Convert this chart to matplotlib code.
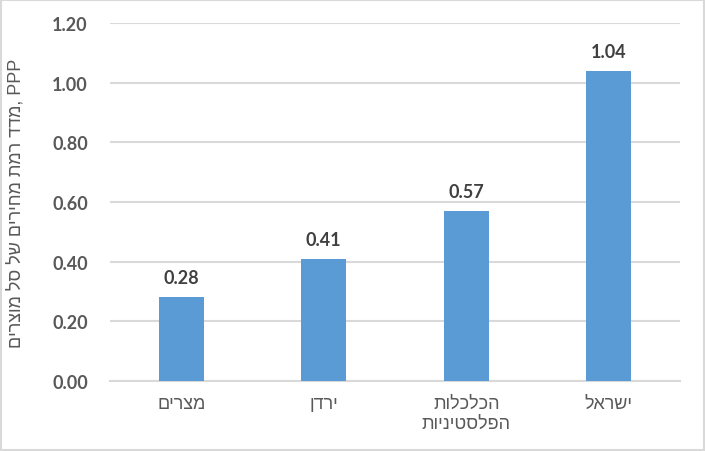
import matplotlib
matplotlib.use("Agg")
import matplotlib.pyplot as plt
from matplotlib.patches import Rectangle

# data (Hebrew kept in logical order, flipped for display below)
countries = ["מצרים", "ירדן", "הכלכלות\nהפלסטיניות", "ישראל"]
ppp_index = [0.28, 0.41, 0.57, 1.04]
y_ticks = [0.0, 0.2, 0.4, 0.6, 0.8, 1.0, 1.2]
y_title = "מדד רמת מחירים של סל מוצרים"
y_title_suffix = ", PPP"


def heb(s):
    # matplotlib has no bidi, so reverse each line for right-to-left display
    return "\n".join(line[::-1] for line in s.split("\n"))


bar_color = "#5B9BD5"
grid_color = "#D9D9D9"
text_grey = "#595959"
num_font = ["Lato", "Liberation Sans", "DejaVu Sans"]
heb_font = ["Liberation Sans", "DejaVu Sans"]

fig = plt.figure(figsize=(7.05, 4.52), dpi=100)
ax = fig.add_axes([110 / 705, 70 / 452, 570 / 705, 358 / 452])

x = range(len(countries))
bars = ax.bar(x, ppp_index, width=0.315, color=bar_color, zorder=3)

for b, v in zip(bars, ppp_index):
    ax.annotate(f"{v:.2f}", (b.get_x() + b.get_width() / 2, v),
                xytext=(0, 8), textcoords="offset points",
                ha="center", va="bottom", fontsize=13, fontweight="bold",
                color="#404040", family=num_font)

ax.set_xlim(-0.5, len(countries) - 0.5)
ax.set_ylim(0, 1.2)
ax.set_yticks(y_ticks)
ax.set_yticklabels([f"{t:.2f}" for t in y_ticks], fontsize=13,
                   fontweight="bold", color=text_grey, family=num_font)
ax.set_xticks(list(x))
ax.set_xticklabels([heb(c) for c in countries], fontsize=13,
                   color=text_grey, family=heb_font, linespacing=1.25)
ax.tick_params(axis="y", length=0, pad=16)
ax.tick_params(axis="x", length=0, pad=10)

ax.grid(axis="y", color=grid_color, linewidth=1.5, zorder=0)
for s in ["top", "right", "left"]:
    ax.spines[s].set_visible(False)
ax.spines["bottom"].set_color(grid_color)
ax.spines["bottom"].set_linewidth(1.5)

ax.set_ylabel(heb(y_title) + y_title_suffix, fontsize=13, color=text_grey,
              family=heb_font, va="center")
ax.yaxis.set_label_coords(-94 / 570, 0.5)

# light frame around the whole chart, as in the spreadsheet export
fig.patches.append(Rectangle((0.001, 0.002), 0.997, 0.995, transform=fig.transFigure,
                             fill=False, edgecolor=grid_color, linewidth=1.5))

fig.savefig("out.png", dpi=100)
